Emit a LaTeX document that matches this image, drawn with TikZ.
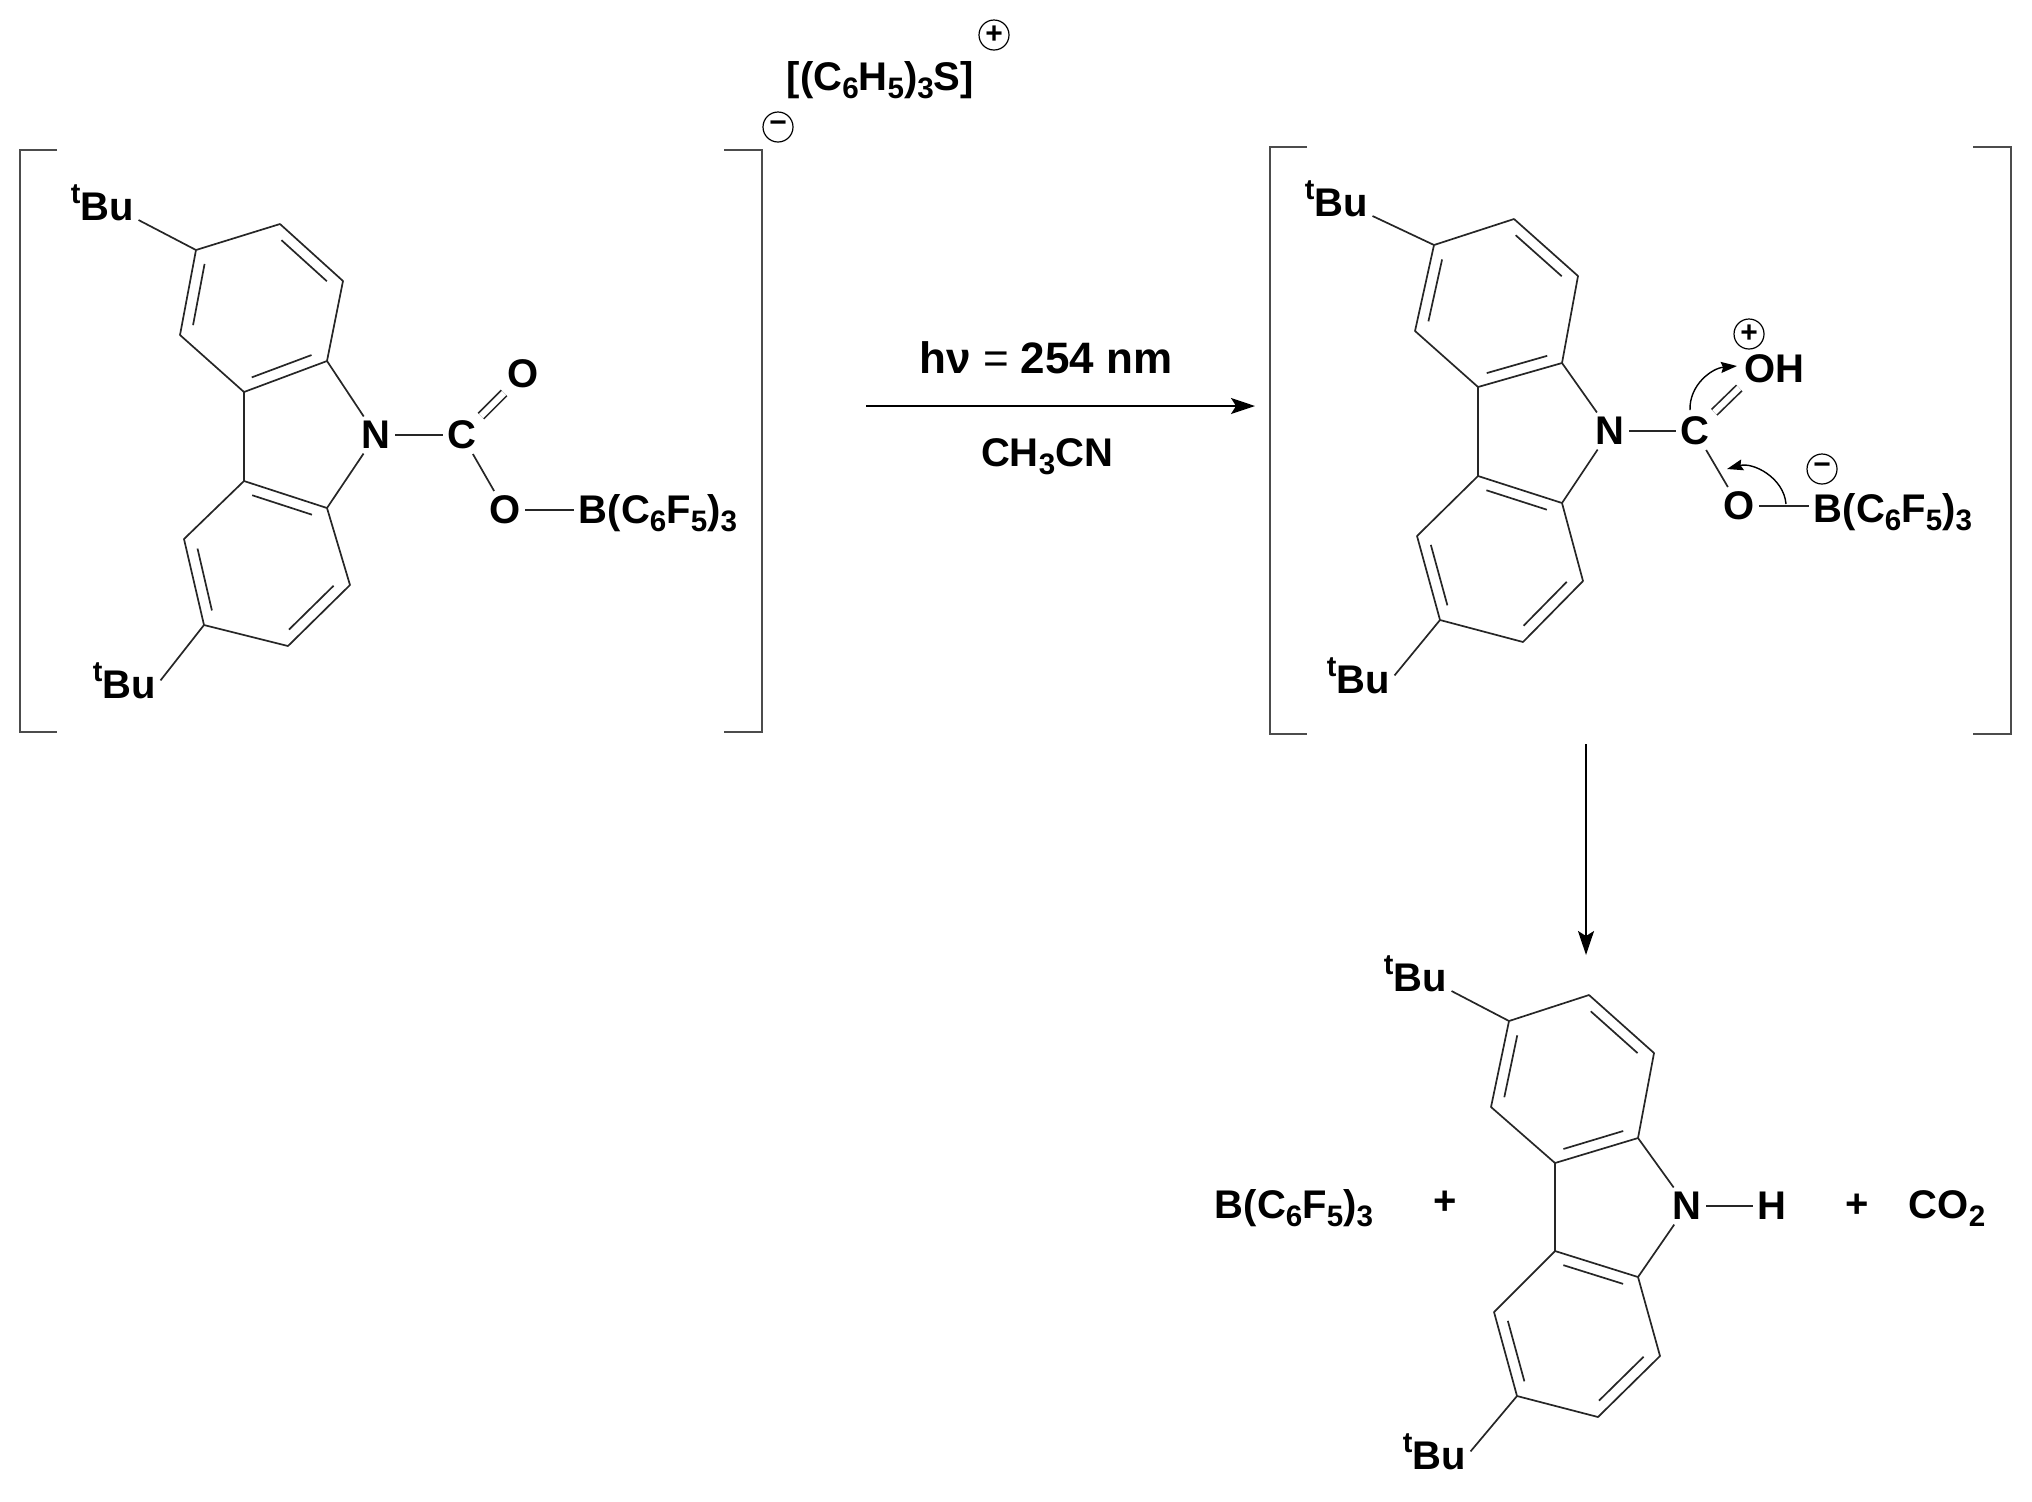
\documentclass[tikz,border=0pt]{standalone}
\usepackage{fontspec}
\usepackage{xcolor}
\setmainfont{Liberation Sans}
\usetikzlibrary{arrows.meta,calc}

\newcommand{\subnum}[1]{\raisebox{-.22em}{\scalebox{.74}{#1}}}
\newcommand{\tert}{\raisebox{.42em}{\scalebox{.72}{t}}Bu}
\newcommand{\borane}{B(C\subnum{6}F\subnum{5})\subnum{3}}
\newcommand{\dbl}[2]{\draw[bond] ($(#1)!.14!(#2)!5.5pt!-90:(#2)$) -- ($(#2)!.14!(#1)!5.5pt!90:(#1)$);}
\newcommand{\ringbonds}[1]{
  \draw[bond] (#1a) -- (#1b) -- (#1c) -- (#1d) -- (#1e) -- (#1f) -- cycle;
  \draw[bond] (#1g) -- (#1h) -- (#1i) -- (#1j) -- (#1k) -- (#1l) -- cycle;
  \draw[bond] (#1e) -- (#1g);
  \draw[bond] (#1d) -- (#1n);
  \draw[bond] (#1h) -- (#1n);
  \dbl{#1b}{#1c} \dbl{#1d}{#1e} \dbl{#1f}{#1a}
  \dbl{#1g}{#1h} \dbl{#1i}{#1j} \dbl{#1k}{#1l}
}

\begin{document}
\begin{tikzpicture}[
  x=0.5pt, y=-0.5pt,
  bond/.style={line width=0.85pt, black!85, line join=round},
  dblbond/.style={bond, double, double distance=3pt, draw=black!85},
  bracket/.style={line width=1.1pt, black!70},
  rxn/.style={line width=0.9pt, -{Stealth[length=12pt,width=8pt,inset=2.5pt]}},
  curly/.style={line width=0.7pt, -{Stealth[length=8pt,width=5.5pt,inset=1pt]}},
  atom/.style={font=\fontsize{20}{22}\selectfont\bfseries, inner sep=2.2pt},
  lbl/.style={atom, anchor=base west},
  charge/.style={circle, draw, line width=0.6pt, inner sep=0pt, minimum size=15pt,
    font=\fontsize{15}{15}\selectfont\bfseries}
]
  \useasboundingbox (0,0) rectangle (2032,1501);

  % left salt
  \foreach \id/\x/\y in {a/196/250, b/280/224, c/343/281, d/327/361, e/244/392, f/180/335,
      g/244/481, h/327/508, i/350/585, j/288/646, k/204/625, l/184/539}
    \coordinate (u\id) at (\x,\y);
  \node[atom] (un) at (376,435) {N};
  \node[atom] (ucarb) at (462,435) {C};
  \node[atom] (uoxo) at (523,374) {O};
  \node[atom] (uoxy) at (505,510) {O};
  \node[lbl] (ubor) at (574,523) {\borane};
  \node[lbl] (utbua) at (66,220) {\tert};
  \node[lbl] (utbub) at (88,698) {\tert};
  \ringbonds{u}
  \draw[bond] (un) -- (ucarb);
  \draw[dblbond] (ucarb) -- (uoxo);
  \draw[bond] (ucarb) -- (uoxy);
  \draw[bond] (uoxy) -- (uoxy -| ubor.west);
  \draw[bond] (ua) -- (utbua.base east);
  \draw[bond] (uk) -- (utbub.east);
  \draw[bracket] (57,150) -| (20,732) -- (57,732);
  \draw[bracket] (724,150) -| (762,732) -- (724,732);
  \node[charge] (uminus) at (778,127) {−};
  \node[lbl] (ucation) at (782,90) {[(C\subnum{6}H\subnum{5})\subnum{3}S]};
  \node[charge] (uplus) at (994,35) {+};

  % first step
  \coordinate (arra) at (866,406);
  \coordinate (arrb) at (1255,406);
  \draw[rxn] (arra) -- (arrb);
  \node[atom, anchor=base, font=\fontsize{22}{24}\selectfont\bfseries] (light) at (1046,373) {hν {\mdseries =} 254 nm};
  \node[atom, anchor=base] (solvent) at (1047,466) {CH\subnum{3}CN};

  % protonated intermediate
  \foreach \id/\x/\y in {a/1434/245, b/1514/219, c/1578/276, d/1562/363, e/1478/387, f/1415/331,
      g/1478/476, h/1562/503, i/1583/581, j/1523/642, k/1440/620, l/1417/536}
    \coordinate (m\id) at (\x,\y);
  \node[atom] (mn) at (1610,431) {N};
  \node[atom] (mcarb) at (1695,431) {C};
  \node[atom] (moh) at (1774,369) {OH};
  \node[atom] (moxy) at (1739,506) {O};
  \node[lbl] (mbor) at (1809,522) {\borane};
  \node[lbl] (mtbua) at (1300,216) {\tert};
  \node[lbl] (mtbub) at (1322,693) {\tert};
  \ringbonds{m}
  \draw[bond] (mn) -- (mcarb);
  \draw[dblbond] (mcarb) -- (moh.south west);
  \draw[bond] (mcarb) -- (moxy);
  \draw[bond] (moxy) -- (moxy -| mbor.west);
  \draw[bond] (ma) -- (mtbua.base east);
  \draw[bond] (mk) -- (mtbub.east);
  \draw[bracket] (1307,147) -| (1270,734) -- (1307,734);
  \draw[bracket] (1973,147) -| (2011,734) -- (1973,734);
  \node[charge] (mplus) at (1749,334) {+};
  \node[charge] (mminus) at (1822,469) {−};
  \coordinate (curla) at (1690,410);
  \coordinate (curlb) at (1737,366);
  \coordinate (curlc) at (1786,504);
  \coordinate (curld) at (1727,469);
  \draw[curly] (curla) to[out=92,in=185] (curlb);
  \draw[curly] (curlc) to[out=95,in=15] (curld);

  % second step
  \coordinate (arrc) at (1586,744);
  \coordinate (arrd) at (1586,955);
  \draw[rxn] (arrc) -- (arrd);

  % products
  \foreach \id/\x/\y in {a/1509/1021, b/1589/995, c/1654/1053, d/1638/1138, e/1555/1163, f/1491/1107,
      g/1555/1251, h/1638/1277, i/1660/1356, j/1598/1417, k/1517/1396, l/1494/1312}
    \coordinate (p\id) at (\x,\y);
  \node[atom] (pn) at (1687,1206) {N};
  \node[atom] (phyd) at (1772,1206) {H};
  \node[lbl] (pbor) at (1210,1218) {\borane};
  \node[atom] (pplusa) at (1445,1203) {+};
  \node[atom] (pplusb) at (1857,1206) {+};
  \node[lbl] (pco) at (1904,1218) {CO\subnum{2}};
  \node[lbl] (ptbua) at (1379,991) {\tert};
  \node[lbl] (ptbub) at (1398,1469) {\tert};
  \ringbonds{p}
  \draw[bond] (pn) -- (phyd);
  \draw[bond] (pa) -- (ptbua.base east);
  \draw[bond] (pk) -- (ptbub.east);
\end{tikzpicture}
\end{document}
